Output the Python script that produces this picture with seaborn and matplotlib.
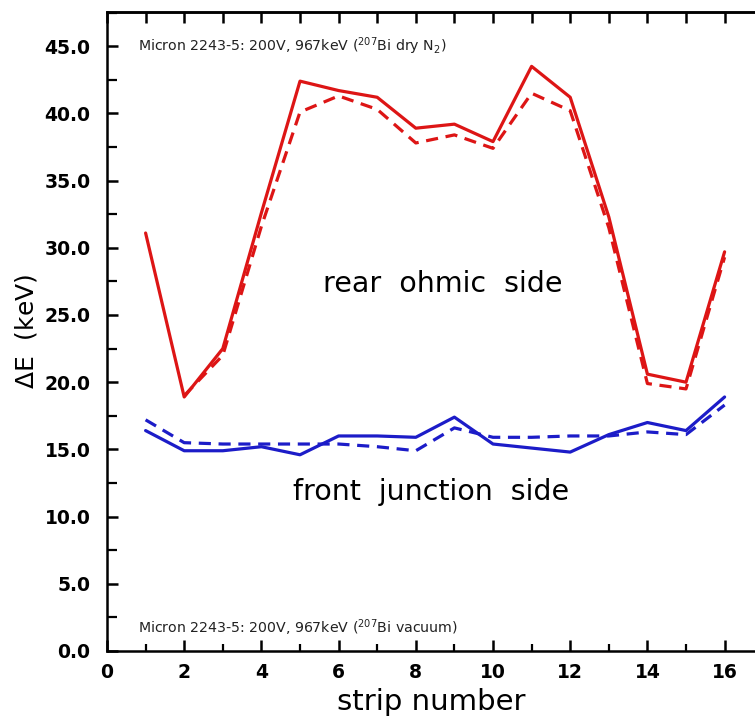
import numpy as np
import pandas as pd
import matplotlib
matplotlib.use("Agg")
import matplotlib.pyplot as plt
import seaborn as sns
from matplotlib.ticker import MultipleLocator, FormatStrFormatter

# 数据
strips = [1, 2, 3, 4, 5, 6, 7, 8, 9, 10, 11, 12, 13, 14, 15, 16]
strips_dash_red = [2, 3, 4, 5, 6, 7, 8, 9, 10, 11, 12, 13, 14, 15, 16]

rear_n2 = [31.1, 18.9, 22.5, 32.6, 42.4, 41.7, 41.2, 38.9, 39.2, 37.9, 43.5, 41.2, 32.3, 20.6, 20.0, 29.7]
rear_vac = [19.0, 22.0, 31.6, 40.1, 41.3, 40.3, 37.8, 38.4, 37.4, 41.5, 40.2, 31.5, 19.9, 19.5, 29.3]
front_n2 = [16.4, 14.9, 14.9, 15.2, 14.6, 16.0, 16.0, 15.9, 17.4, 15.4, 15.1, 14.8, 16.1, 17.0, 16.4, 18.9]
front_vac = [17.2, 15.5, 15.4, 15.4, 15.4, 15.4, 15.2, 14.9, 16.6, 15.9, 15.9, 16.0, 16.0, 16.3, 16.1, 18.3]

red = '#dd1515'
blue = '#1c1cc8'

sns.set_style("ticks")
plt.rcParams['font.family'] = ['DejaVu Sans']
plt.rcParams['text.color'] = 'black'
plt.rcParams['axes.labelcolor'] = 'black'
plt.rcParams['xtick.color'] = 'black'
plt.rcParams['ytick.color'] = 'black'
plt.rcParams['axes.edgecolor'] = 'black'

fig = plt.figure(figsize=(7.55, 7.26), dpi=100)
ax = fig.add_axes([107 / 755, 75 / 726, 648 / 755, 639 / 726])

sns.lineplot(x=strips, y=rear_n2, ax=ax, color=red, linewidth=2.3)
sns.lineplot(x=strips_dash_red, y=rear_vac, ax=ax, color=red, linewidth=2.3,
             linestyle=(0, (3.8, 2.4)))
sns.lineplot(x=strips, y=front_n2, ax=ax, color=blue, linewidth=2.3)
sns.lineplot(x=strips, y=front_vac, ax=ax, color=blue, linewidth=2.3,
             linestyle=(0, (3.8, 2.4)))

ax.set_xlim(0, 648 / 38.6)
ax.set_ylim(0, 639 / 13.44)

# 坐标轴样式
for s in ['left', 'bottom', 'top']:
    ax.spines[s].set_linewidth(1.8)
ax.spines['right'].set_visible(False)

ax.xaxis.set_major_locator(MultipleLocator(2))
ax.xaxis.set_minor_locator(MultipleLocator(1))
ax.yaxis.set_major_locator(MultipleLocator(5))
ax.yaxis.set_minor_locator(MultipleLocator(2.5))
ax.yaxis.set_major_formatter(FormatStrFormatter('%.1f'))

ax.tick_params(axis='x', which='major', direction='in', length=8, width=1.8,
               top=False, labelsize=13.5, pad=9)
ax.tick_params(axis='x', which='minor', direction='in', length=5, width=1.6, top=False)
ax.tick_params(axis='y', which='major', direction='in', length=8, width=1.8,
               labelsize=13.5, pad=12)
ax.tick_params(axis='y', which='minor', direction='in', length=7, width=1.6)
for lab in ax.get_xticklabels() + ax.get_yticklabels():
    lab.set_fontweight('bold')

# 顶部刻度: 每个条带一个, 等长, 无标签
top = ax.secondary_xaxis('top')
top.xaxis.set_major_locator(MultipleLocator(1))
top.tick_params(axis='x', direction='in', length=8, width=1.8, labeltop=False)
top.spines['top'].set_linewidth(1.8)

ax.set_xlabel('strip number', fontsize=21, labelpad=4)
ax.set_ylabel(r'$\Delta$E  (keV)', fontsize=18, labelpad=4)

ax.text(0.8, 45.0, r'Micron 2243-5: 200V, 967keV ($^{207}$Bi dry N$_2$)',
        fontsize=10.2, color='#222222', va='center', ha='left')
ax.text(0.8, 1.7, r'Micron 2243-5: 200V, 967keV ($^{207}$Bi vacuum)',
        fontsize=10.2, color='#222222', va='center', ha='left')
ax.text(8.7, 27.3, 'rear  ohmic  side', fontsize=20.5, ha='center', va='center')
ax.text(8.4, 11.8, 'front  junction  side', fontsize=20.5, ha='center', va='center')

fig.savefig('out.png', dpi=100)
